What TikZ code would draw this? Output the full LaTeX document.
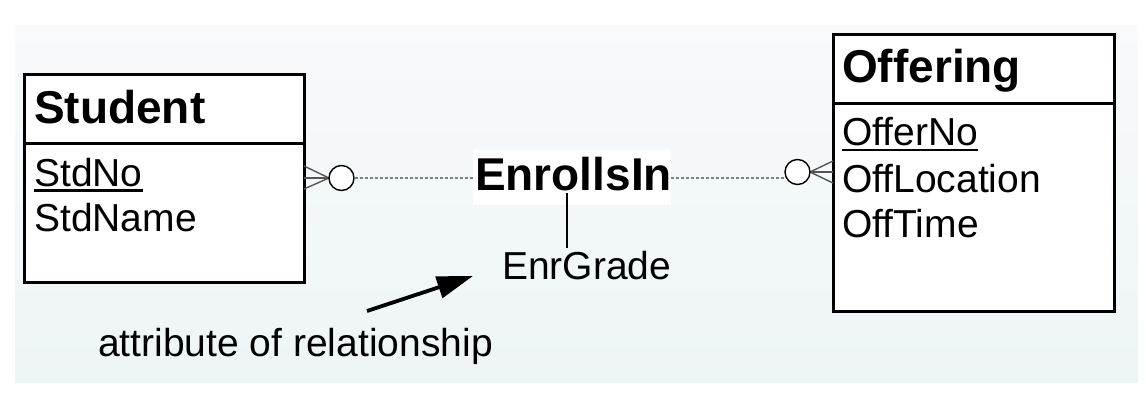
\documentclass[tikz,border=0pt]{standalone}
\usepackage{fontspec}
\setmainfont{Liberation Sans}
\usetikzlibrary{arrows.meta}
\definecolor{paneltop}{HTML}{F8FAFB}
\definecolor{panelbot}{HTML}{EEF5F7}
\definecolor{footgray}{HTML}{555555}
\tikzset{
  entbox/.style={draw=black, fill=white, line width=3pt},
  hdr/.style={inner sep=0pt, anchor=base west, font=\fontsize{46}{52}\selectfont\bfseries},
  attr/.style={inner sep=0pt, anchor=base west, font=\fontsize{39}{45}\selectfont},
  uline/.style={line width=2.8pt},
  foot/.style={draw=footgray, line width=1.4pt},
  optcirc/.style={circle, draw=black, fill=white, line width=1.4pt, minimum size=25pt, inner sep=0pt},
  relline/.style={draw=gray, line width=1.2pt, dash pattern=on 3pt off 2pt},
}
\begin{document}
\begin{tikzpicture}[x=1pt,y=-1pt]
\useasboundingbox (0,0) rectangle (1146,410);
\shade[top color=paneltop, bottom color=panelbot] (15,25) rectangle (1138,382);

% Student entity
\draw[entbox] (24.5,74) rectangle (304,282);
\draw[line width=3pt] (24.5,143) -- (304,143);
\node[hdr] (student) at (34,123) {Student};
\node[attr] (stdno) at (34,186) {StdNo};
\draw[uline] ([yshift=-4.5pt]stdno.base west) -- ([yshift=-4.5pt]stdno.base east);
\node[attr] (stdname) at (34,231) {StdName};

% Offering entity
\draw[entbox] (833,34) rectangle (1114,311);
\draw[line width=3pt] (833,103) -- (1114,103);
\node[hdr] (offering) at (842,82) {Offering};
\node[attr] (offerno) at (842,145) {OfferNo};
\draw[uline] ([yshift=-5pt]offerno.base west) -- ([yshift=-5pt]offerno.base east);
\node[attr] (offloc) at (842,192) {OffLocation};
\node[attr] (offtime) at (842,237) {OffTime};

% Relationship
\node[fill=white, inner sep=0pt, minimum width=198pt, minimum height=55pt] (rel) at (572,177.5) {};
\node[hdr] (reltext) at (475,190) {EnrollsIn};

% Left end: crow's foot + optional circle
\coordinate (lfoot) at (329,178);
\draw[foot] (304,166) -- (lfoot);
\draw[foot] (304,178) -- (lfoot);
\draw[foot] (304,189) -- (lfoot);
\node[optcirc] (circL) at (341.5,178) {};
\draw[relline] (circL.east) -- (rel.west |- circL.east);

% Right end
\coordinate (rfoot) at (810,172);
\draw[foot] (833,161) -- (rfoot);
\draw[foot] (833,172) -- (rfoot);
\draw[foot] (833,183) -- (rfoot);
\node[optcirc] (circR) at (797.5,172) {};
\draw[relline] (rel.east |- 0,178) -- (785,178);

% Attribute of relationship
\node[attr] (enrgrade) at (502,279) {EnrGrade};
\draw[line width=2.8pt] (567,193) -- (567,248);

% Annotation
\node[attr] (note) at (98,356) {attribute of relationship};
\coordinate (arrS) at (367,311);
\coordinate (arrE) at (473,276);
\draw[line width=3.8pt, -{Triangle[length=36pt,width=22pt]}] (arrS) -- (arrE);
\end{tikzpicture}
\end{document}
